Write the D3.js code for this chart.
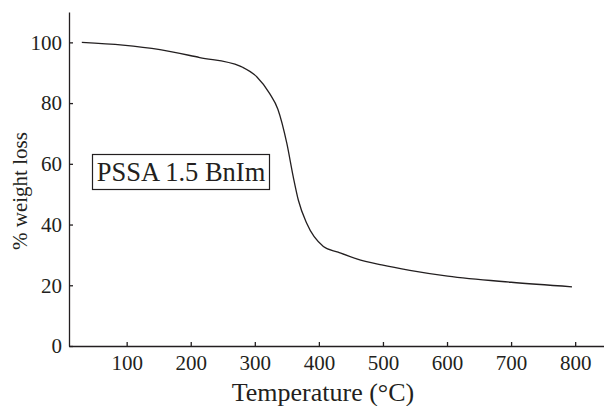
<!DOCTYPE html>
<html lang="en">
<head>
<meta charset="utf-8">
<title>TGA curve: PSSA 1.5 BnIm</title>
<script src="https://cdn.jsdelivr.net/npm/d3@7"></script>
<style>
  body { margin: 0; background: #fff; }
  svg { display: block; }
  text { font-family: "Liberation Serif", "DejaVu Serif", serif; fill: #231f20; }
  .axis path, .axis line { stroke: #231f20; stroke-width: 1.3; }
</style>
</head>
<body>
<script>
// temperature (°C) and weight (%)
var temps = [30, 94, 152, 214, 277, 281, 303, 323, 336, 350, 360, 368, 381, 407, 430, 459, 498, 542, 601, 700, 795];
var weights = [100, 99.1, 97.6, 95.0, 92.2, 91.8, 88.7, 83.2, 78, 66.7, 55.7, 48, 40.4, 32.8, 30.9, 28.7, 26.7, 24.9, 23.0, 21.0, 19.5];
var xTicks = [100, 200, 300, 400, 500, 600, 700, 800];
var yTicks = [0, 20, 40, 60, 80, 100];
var sampleLabel = "PSSA 1.5 BnIm";

var w = 604, h = 406;
var mLeft = 69, mTop = 12, mBottom = 346, mRight = 604;

var data = temps.map(function(t, i) { return { t: t, v: weights[i] }; });

var xScale = d3.scaleLinear().domain([10, 845]).range([mLeft, mRight]);
var yScale = d3.scaleLinear().domain([0, 110]).range([mBottom, mTop]);

var svg = d3.select("body").append("svg")
    .attr("width", w)
    .attr("height", h);

var xAxis = d3.axisBottom(xScale)
    .tickValues(xTicks)
    .tickSizeInner(-4)
    .tickSizeOuter(0)
    .tickPadding(9);

var yAxis = d3.axisLeft(yScale)
    .tickValues(yTicks)
    .tickSizeInner(-4)
    .tickSizeOuter(0)
    .tickPadding(7);

svg.append("g")
    .attr("class", "axis")
    .attr("transform", "translate(0," + mBottom + ")")
    .call(xAxis);

svg.append("g")
    .attr("class", "axis")
    .attr("transform", "translate(" + mLeft + ",0)")
    .call(yAxis);

svg.selectAll(".axis text")
    .style("font-family", "'Liberation Serif', serif")
    .style("font-size", "21px")
    .attr("fill", "#231f20");

// curve
var line = d3.line()
    .x(function(d) { return xScale(d.t); })
    .y(function(d) { return yScale(d.v); })
    .curve(d3.curveMonotoneX);

svg.append("path")
    .datum(data)
    .attr("d", line)
    .attr("fill", "none")
    .attr("stroke", "#231f20")
    .attr("stroke-width", 1.3);

// axis titles
svg.append("text")
    .attr("x", 323)
    .attr("y", 401)
    .attr("text-anchor", "middle")
    .style("font-size", "26px")
    .text("Temperature (°C)");

svg.append("text")
    .attr("transform", "translate(27,250) rotate(-90)")
    .attr("text-anchor", "start")
    .style("font-size", "21px")
    .text("% weight loss");

// sample label box
var lbl = svg.append("g");
lbl.append("text")
    .attr("x", 181)
    .attr("y", 181)
    .attr("text-anchor", "middle")
    .style("font-size", "26.5px")
    .text(sampleLabel);

lbl.insert("rect", "text")
    .attr("x", 92.5)
    .attr("y", 154.5)
    .attr("width", 177)
    .attr("height", 35)
    .attr("fill", "#fff")
    .attr("stroke", "#231f20")
    .attr("stroke-width", 1.2);
</script>
</body>
</html>
